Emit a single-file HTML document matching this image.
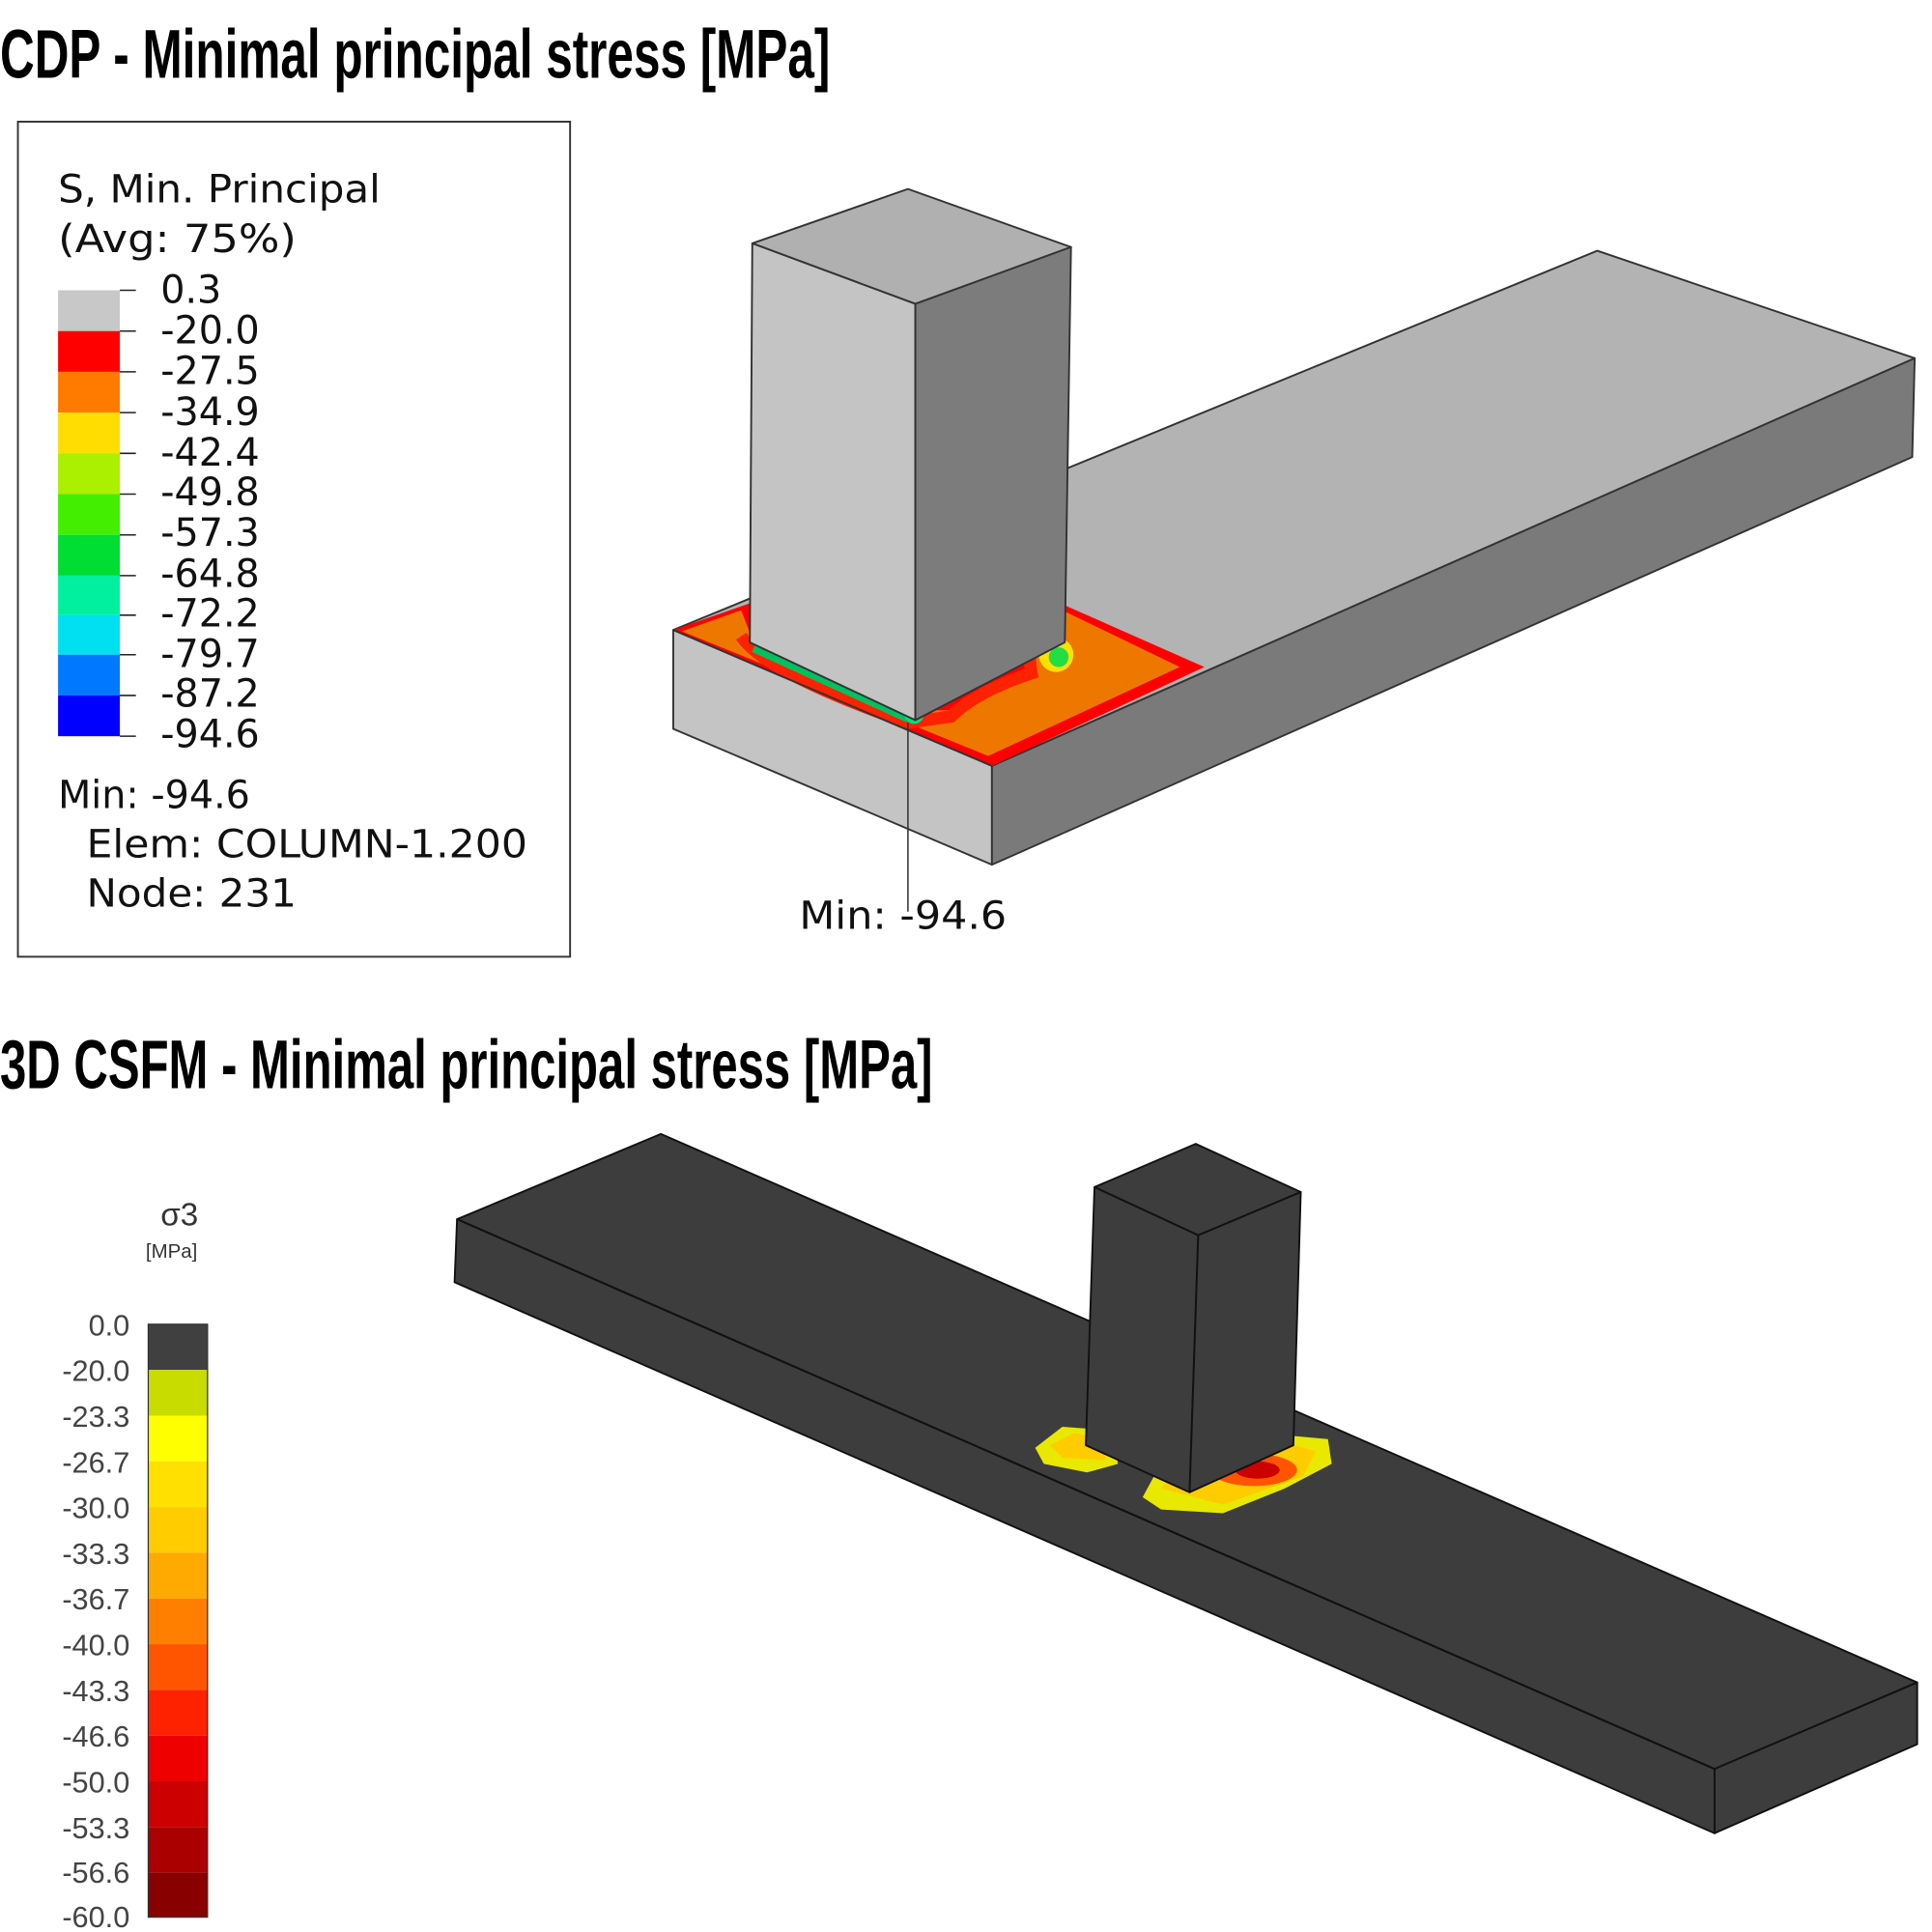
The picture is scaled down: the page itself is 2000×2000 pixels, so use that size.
<!DOCTYPE html>
<html><head><style>html,body{margin:0;padding:0;background:#fff}svg{display:block}</style></head>
<body>
<svg xmlns="http://www.w3.org/2000/svg" width="2000" height="2000" viewBox="0 0 1564 1564">
<rect width="1564" height="1564" fill="#fff"/>
<text x="0" y="63" font-family="Liberation Sans Narrow, Liberation Sans, sans-serif" font-weight="bold" font-size="56" textLength="672" lengthAdjust="spacingAndGlyphs" fill="#000">CDP - Minimal principal stress [MPa]</text>
<rect x="14.5" y="98.5" width="447" height="676" fill="#fff" stroke="#333" stroke-width="1.5"/>
<g font-family="DejaVu Sans, Liberation Sans, sans-serif" font-size="31" fill="#111">
<text x="47" y="164" textLength="261" lengthAdjust="spacingAndGlyphs">S, Min. Principal</text>
<text x="47" y="204" textLength="193" lengthAdjust="spacingAndGlyphs">(Avg: 75%)</text>
</g>
<g stroke="none">
<rect x="47" y="235" width="50" height="33" fill="#c8c8c8"/>
<rect x="47" y="268" width="50" height="33" fill="#ff0000"/>
<rect x="47" y="301" width="50" height="33" fill="#ff7b00"/>
<rect x="47" y="334" width="50" height="33" fill="#ffdd00"/>
<rect x="47" y="367" width="50" height="33" fill="#aaf000"/>
<rect x="47" y="400" width="50" height="33" fill="#44ee00"/>
<rect x="47" y="433" width="50" height="33" fill="#00dd33"/>
<rect x="47" y="466" width="50" height="32" fill="#00f0a0"/>
<rect x="47" y="498" width="50" height="32" fill="#00e0f0"/>
<rect x="47" y="530" width="50" height="33" fill="#0078ff"/>
<rect x="47" y="563" width="50" height="33" fill="#0000ff"/>
</g>
<g stroke="#222" stroke-width="1.2">
<line x1="97" y1="235" x2="110" y2="235"/><line x1="97" y1="268" x2="110" y2="268"/><line x1="97" y1="301" x2="110" y2="301"/><line x1="97" y1="334" x2="110" y2="334"/><line x1="97" y1="367" x2="110" y2="367"/><line x1="97" y1="400" x2="110" y2="400"/><line x1="97" y1="433" x2="110" y2="433"/><line x1="97" y1="466" x2="110" y2="466"/><line x1="97" y1="498" x2="110" y2="498"/><line x1="97" y1="530" x2="110" y2="530"/><line x1="97" y1="563" x2="110" y2="563"/><line x1="97" y1="596" x2="110" y2="596"/>
</g>
<g font-family="DejaVu Sans, Liberation Sans, sans-serif" font-size="31" fill="#111">
<text x="130" y="245">0.3</text><text x="130" y="278">-20.0</text><text x="130" y="311">-27.5</text><text x="130" y="344">-34.9</text><text x="130" y="377">-42.4</text><text x="130" y="409">-49.8</text><text x="130" y="442">-57.3</text><text x="130" y="475">-64.8</text><text x="130" y="507">-72.2</text><text x="130" y="540">-79.7</text><text x="130" y="572">-87.2</text><text x="130" y="605">-94.6</text>
<text x="47" y="654">Min: -94.6</text>
<text x="70" y="694" textLength="357" lengthAdjust="spacingAndGlyphs">Elem: COLUMN-1.200</text>
<text x="70" y="734" textLength="170" lengthAdjust="spacingAndGlyphs">Node: 231</text>
<text x="647" y="752" textLength="168" lengthAdjust="spacingAndGlyphs">Min: -94.6</text>
</g>
<g stroke="#333" stroke-width="1.5" stroke-linejoin="round">
<polygon points="545,510 1293,203 1550,290 803,620" fill="#b3b3b3"/>
<polygon points="545,510 803,620 803,700 545,590" fill="#c4c4c4"/>
<polygon points="803,620 1550,290 1548,370 803,700" fill="#7a7a7a"/>
</g>
<polygon points="545,510 608,488 862,490 975,540 803,620" fill="#ff0000"/>
<polygon points="552,511 600,494 610,520 650,545 740,575 775,575 830,548 835,510 862,495 955,540 800,612" fill="#ee7700"/>
<path d="M600,515 Q620,545 735,585 L770,580 Q790,560 835,545 Q830,520 845,505 L862,505" fill="none" stroke="#ff2200" stroke-width="10"/>
<path d="M610,525 L735,582" stroke="#00c060" stroke-width="6"/>
<circle cx="855" cy="530" r="14" fill="#ffe000"/><circle cx="857" cy="532" r="8" fill="#22dd44"/>
<circle cx="740" cy="578" r="8" fill="#00dd80"/>
<line x1="545" y1="510" x2="803" y2="620" stroke="#333" stroke-width="1.5"/>
<g stroke="#333" stroke-width="1.5" stroke-linejoin="round">
<polygon points="609,197 735,153 867,200 741,246" fill="#b0b0b0"/>
<polygon points="609,197 741,246 741,583 607,520" fill="#c4c4c4"/>
<polygon points="741,246 867,200 862,520 741,583" fill="#7c7c7c"/>
</g>
<line x1="735" y1="585" x2="735" y2="738" stroke="#333" stroke-width="1.2"/>
<text x="0" y="881" font-family="Liberation Sans Narrow, Liberation Sans, sans-serif" font-weight="bold" font-size="56" textLength="755" lengthAdjust="spacingAndGlyphs" fill="#000">3D CSFM - Minimal principal stress [MPa]</text>
<text x="130" y="992" font-family="Liberation Sans, sans-serif" font-size="26" fill="#333">σ3</text>
<text x="118" y="1018" font-family="Liberation Sans, sans-serif" font-size="16" fill="#333">[MPa]</text>
<g>
<rect x="120" y="1072" width="48" height="37" fill="#404040"/>
<rect x="120" y="1109" width="48" height="37" fill="#c8dc00"/>
<rect x="120" y="1146" width="48" height="37" fill="#ffff00"/>
<rect x="120" y="1183" width="48" height="37" fill="#ffe000"/>
<rect x="120" y="1220" width="48" height="37" fill="#ffcc00"/>
<rect x="120" y="1257" width="48" height="37" fill="#ffaa00"/>
<rect x="120" y="1294" width="48" height="37" fill="#ff8000"/>
<rect x="120" y="1331" width="48" height="37" fill="#ff5500"/>
<rect x="120" y="1368" width="48" height="37" fill="#ff2200"/>
<rect x="120" y="1405" width="48" height="37" fill="#ee0000"/>
<rect x="120" y="1442" width="48" height="37" fill="#cc0000"/>
<rect x="120" y="1479" width="48" height="37" fill="#aa0000"/>
<rect x="120" y="1516" width="48" height="36" fill="#880000"/>
<rect x="120" y="1072" width="48" height="480" fill="none" stroke="#333" stroke-width="1"/>
</g>
<g font-family="Liberation Sans, sans-serif" font-size="24" fill="#444" text-anchor="end">
<text x="105" y="1081">0.0</text><text x="105" y="1118">-20.0</text><text x="105" y="1155">-23.3</text><text x="105" y="1192">-26.7</text><text x="105" y="1229">-30.0</text><text x="105" y="1266">-33.3</text><text x="105" y="1303">-36.7</text><text x="105" y="1340">-40.0</text><text x="105" y="1377">-43.3</text><text x="105" y="1414">-46.6</text><text x="105" y="1451">-50.0</text><text x="105" y="1488">-53.3</text><text x="105" y="1524">-56.6</text><text x="105" y="1560">-60.0</text>
</g>
<g stroke="#111" stroke-width="1.5" stroke-linejoin="round" fill="#3d3d3d">
<polygon points="370,987 535,918 1552,1362 1388,1432"/>
<polygon points="370,987 1388,1432 1388,1484 368,1038"/>
<polygon points="1388,1432 1552,1362 1552,1412 1388,1484"/>
</g>
<polygon points="838,1172 860,1155 900,1158 905,1185 880,1192 845,1185" fill="#e8e800"/>
<polygon points="850,1170 870,1160 895,1165 895,1182 860,1180" fill="#ffcc00"/>
<polygon points="925,1212 945,1175 1020,1160 1075,1165 1078,1185 1040,1205 990,1225 940,1222" fill="#e8e800"/>
<polygon points="940,1205 960,1180 1030,1165 1065,1175 1055,1195 990,1218" fill="#ffcc00"/>
<ellipse cx="1015" cy="1190" rx="35" ry="13" fill="#ff5500"/>
<ellipse cx="1018" cy="1190" rx="18" ry="7" fill="#cc0000"/>
<line x1="370" y1="987" x2="1388" y2="1432" stroke="#111" stroke-width="1.5"/>
<g stroke="#111" stroke-width="1.5" stroke-linejoin="round" fill="#3d3d3d">
<polygon points="886,961 968,926 1053,965 970,1000"/>
<polygon points="886,961 970,1000 963,1208 879,1170"/>
<polygon points="970,1000 1053,965 1047,1170 963,1208"/>
</g>
</svg>
</body></html>
